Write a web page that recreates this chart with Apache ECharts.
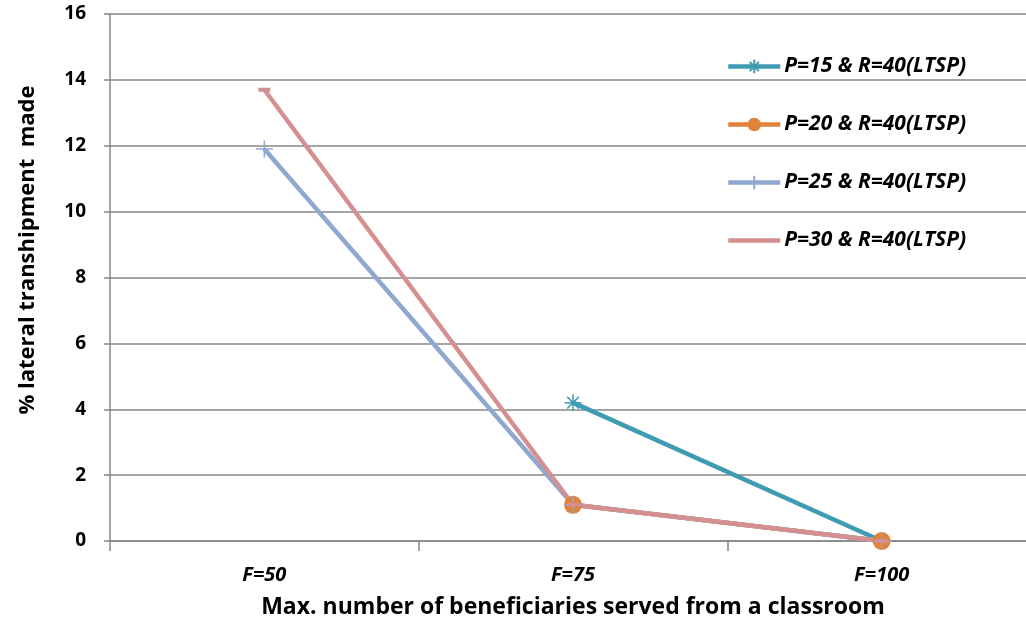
<!DOCTYPE html>
<html>
<head>
<meta charset="utf-8">
<style>
  html, body { margin: 0; padding: 0; background: #ffffff; overflow: hidden; }
  #chart { width: 1036px; height: 625px; }
</style>
<script src="https://cdn.jsdelivr.net/npm/echarts@6/dist/echarts.min.js"></script>
</head>
<body>
<div id="chart"></div>
<script>
// Categories on the x axis: maximum beneficiaries per classroom
const categories = ['F=50', 'F=75', 'F=100'];

// % lateral transhipment made for each P setting (R=40, LTSP)
const seriesNames = [
  'P=15 & R=40(LTSP)',
  'P=20 & R=40(LTSP)',
  'P=25 & R=40(LTSP)',
  'P=30 & R=40(LTSP)'
];
const p15 = [null, 4.2, 0];
const p20 = [null, 1.1, 0];
const p25 = [11.9, 1.1, 0];
const p30 = [13.7, 1.1, 0];

const yTicks = [0, 2, 4, 6, 8, 10, 12, 14, 16];

const FONT = '"Open Sans", Lato, "Liberation Sans", sans-serif';
const AXIS_GRAY = '#878787';

const colors = {
  p15: '#3f9bb1',
  p20: '#e2823a',
  p25: '#8ea8d0',
  p30: '#d49090'
};

const asterisk = 'path://M5,0L5,10M0,5L10,5M1.6,1.6L8.4,8.4M1.6,8.4L8.4,1.6';
const plus = 'path://M5,0L5,10M0,5L10,5';

function lineSeries(name, data, color, symbol, symbolSize, itemStyle) {
  return {
    name: name,
    type: 'line',
    data: data,
    connectNulls: false,
    symbol: symbol,
    symbolSize: symbolSize,
    showSymbol: true,
    lineStyle: { color: color, width: 4.5 },
    itemStyle: itemStyle,
    emphasis: { disabled: true },
    animation: false
  };
}

const chart = echarts.init(document.getElementById('chart'), null, { renderer: 'canvas' });

chart.setOption({
  backgroundColor: '#ffffff',
  animation: false,
  grid: {
    left: 110,
    right: 0,
    top: 14,
    bottom: 84,
    containLabel: false
  },
  legend: {
    orient: 'vertical',
    left: 726,
    top: 56,
    padding: 0,
    itemWidth: 52,
    itemHeight: 17,
    itemGap: 37,
    data: [
      { name: seriesNames[0], lineStyle: { width: 4.5 } },
      { name: seriesNames[1], lineStyle: { width: 4.5 } },
      { name: seriesNames[2], lineStyle: { width: 4.5 } },
      { name: seriesNames[3], lineStyle: { width: 4.5 },
        itemStyle: { color: 'rgba(0,0,0,0)', borderWidth: 0 } }
    ],
    textStyle: {
      fontFamily: FONT,
      fontSize: 21,
      lineHeight: 21,
      fontWeight: 'bold',
      fontStyle: 'italic',
      color: '#000000',
      padding: [0, 0, 0, -1]
    }
  },
  xAxis: {
    type: 'category',
    data: categories,
    boundaryGap: true,
    axisLine: { show: true, lineStyle: { color: AXIS_GRAY, width: 1.5 } },
    axisTick: { show: true, length: 10, interval: 0, lineStyle: { color: AXIS_GRAY, width: 1.5 } },
    axisLabel: {
      margin: 24,
      fontFamily: FONT,
      fontSize: 20,
      fontWeight: 'bold',
      fontStyle: 'italic',
      color: '#000000'
    },
    splitLine: { show: false },
    name: 'Max. number of beneficiaries served from a classroom',
    nameLocation: 'middle',
    nameGap: 55,
    nameTextStyle: {
      fontFamily: FONT,
      fontSize: 23,
      fontWeight: 'bold',
      color: '#000000'
    }
  },
  yAxis: {
    type: 'value',
    min: yTicks[0],
    max: yTicks[yTicks.length - 1],
    interval: 2,
    axisLine: { show: true, lineStyle: { color: AXIS_GRAY, width: 1.5 } },
    axisTick: { show: true, length: 6, lineStyle: { color: AXIS_GRAY, width: 1.5 } },
    axisLabel: {
      margin: 24,
      fontFamily: FONT,
      fontSize: 19,
      fontWeight: 'bold',
      color: '#000000'
    },
    splitLine: { show: true, lineStyle: { color: AXIS_GRAY, width: 1.5 } }
  },
  graphic: [{
    type: 'text',
    x: 28,
    y: 250,
    rotation: Math.PI / 2,
    style: {
      text: '% lateral transhipment  made',
      fontFamily: FONT,
      fontSize: 22,
      fontWeight: 'bold',
      fill: '#000000',
      align: 'center',
      verticalAlign: 'middle'
    }
  }],
  series: [
    lineSeries(seriesNames[0], p15, colors.p15, asterisk, 17,
      { color: 'none', borderColor: colors.p15, borderWidth: 1.5 }),
    lineSeries(seriesNames[1], p20, colors.p20, 'circle', 18,
      { color: colors.p20, borderColor: colors.p20, borderWidth: 0 }),
    lineSeries(seriesNames[2], p25, colors.p25, plus, 17,
      { color: 'none', borderColor: colors.p25, borderWidth: 1.5 }),
    lineSeries(seriesNames[3], p30, colors.p30, 'rect', [12, 4],
      { color: colors.p30, borderColor: colors.p30, borderWidth: 0 })
  ]
});
</script>
</body>
</html>
